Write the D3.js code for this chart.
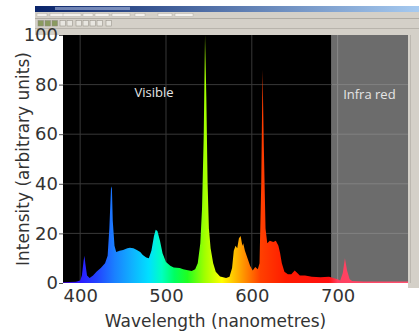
<!DOCTYPE html>
<html>
<head>
<meta charset="utf-8">
<script src="https://cdn.jsdelivr.net/npm/d3@7"></script>
<style>
  body { margin: 0; background: #fff; }
  svg { display: block; }
  .tick text { font-family: "DejaVu Sans", sans-serif; fill: #333; }
</style>
</head>
<body>
<div id="chart"></div>
<script>
// spectrum (wavelength in nm, intensity in arbitrary units)
const wavelength = [380, 395, 400, 402, 404, 405, 406, 408, 411, 415, 419, 424, 429, 432, 434, 436, 437, 438, 440, 442,
  446, 450, 455, 458, 462, 465, 470, 473, 477, 480, 483, 486, 488, 490, 493, 496, 500, 505, 509, 516,
  520, 524, 530, 534, 537, 540, 542, 544, 545.5, 547, 548.5, 550, 552, 555, 558, 563, 570, 574, 577, 579,
  581, 583, 585, 587, 589, 590, 592, 595, 598, 601, 604, 607, 609, 611, 612.5, 614, 616, 618, 621, 625,
  628, 631, 633, 635, 638, 642, 646, 650, 653, 656, 662, 670, 680, 690, 695, 700, 703, 706, 708.5, 711,
  714, 717, 730, 782];
const intensity = [0.3, 0.5, 1, 3, 9, 11, 8, 3, 2, 3, 4.5, 6, 8, 11, 22, 39, 38, 25, 15, 12.5,
  13, 13.3, 14, 14.2, 14, 13.5, 12.5, 11.3, 10.3, 10, 13, 19, 21.5, 21, 17, 12, 8.5, 7, 6.2, 6,
  5.5, 5.2, 4.8, 5.5, 8, 16, 30, 60, 100, 75, 40, 22, 14, 8, 4.5, 2.6, 2, 2.5, 6, 13,
  15, 14, 18, 19, 15, 16, 13, 10, 7, 5, 6.5, 5.5, 8, 40, 86, 55, 22, 16, 17, 16.5,
  17, 15, 12, 8, 4.5, 3.5, 3.5, 5, 4, 3, 3, 2.5, 2.3, 2.5, 2, 1.5, 1, 4, 10, 5,
  1.5, 0.8, 0.6, 0.6];

const xTicks = [400, 500, 600, 700];
const yTicks = [0, 20, 40, 60, 80, 100];

// colour of the fill along the spectrum
const stopNm = [380, 400, 420, 440, 460, 480, 495, 510, 525, 545, 565, 580, 595, 610, 640, 690, 700, 782];
const stopColor = ["#4000c0", "#2a1aff", "#2244ff", "#1a80ff", "#10b0ff", "#00e0ff", "#00ffc0", "#00ff60",
  "#20ff20", "#a0ff00", "#ffff00", "#ffc000", "#ff8000", "#ff4000", "#ff1a00", "#ff1010", "#ff4060", "#ff5070"];

const visibleEnd = 693;

const W = 419, H = 334;
const margin = {top: 35, right: 11, bottom: 51, left: 63};

const svg = d3.select("#chart").append("svg")
  .attr("width", W).attr("height", H);

const x = d3.scaleLinear().domain([380, 782]).range([margin.left, W - margin.right]);
const y = d3.scaleLinear().domain([0, 100]).range([H - margin.bottom, margin.top]);

// window chrome of the acquisition program
svg.append("rect").attr("x", 35).attr("y", 6).attr("width", W - 35).attr("height", 29).attr("fill", "#d4d0c8");
const tg = svg.append("defs").append("linearGradient").attr("id", "title");
tg.append("stop").attr("offset", "0%").attr("stop-color", "#0a246a");
tg.append("stop").attr("offset", "100%").attr("stop-color", "#a6caf0");
svg.append("rect").attr("x", 35).attr("y", 6).attr("width", W - 35).attr("height", 6).attr("fill", "url(#title)");
svg.append("rect").attr("x", 55).attr("y", 7).attr("width", 75).attr("height", 3).attr("fill", "#c8d4f0").attr("opacity", 0.5);
[37, 50, 63, 83, 95, 112, 135, 158, 175].forEach((m, i) => {
  svg.append("rect").attr("x", m).attr("y", 13.5).attr("width", 10 + (i % 3) * 4).attr("height", 3)
    .attr("fill", "#f4f2ee").attr("stroke", "#a8a49c").attr("stroke-width", 0.4);
});
svg.append("line").attr("x1", 35).attr("x2", W).attr("y1", 18.5).attr("y2", 18.5).attr("stroke", "#b0aca4");
[38, 45, 52, 60, 67, 76, 83, 90, 97, 106].forEach((m, i) => {
  svg.append("rect").attr("x", m).attr("y", 20.5).attr("width", 5.5).attr("height", 5.5)
    .attr("fill", i < 3 ? "#8a9a60" : "#e8e6e0").attr("stroke", "#8c887e").attr("stroke-width", 0.5);
});
svg.append("line").attr("x1", 35).attr("x2", W).attr("y1", 28.5).attr("y2", 28.5).attr("stroke", "#b8b4ac");
svg.append("rect").attr("x", W - margin.right).attr("y", margin.top - 1).attr("width", margin.right)
  .attr("height", H - margin.bottom - margin.top + 6).attr("fill", "#d4d0c8");
svg.append("line").attr("x1", W - margin.right + 2.5).attr("x2", W - margin.right + 2.5)
  .attr("y1", margin.top).attr("y2", H - margin.bottom).attr("stroke", "#bcb8b0");

// plot background: black for visible, grey for infra red
svg.append("rect").attr("x", x(380)).attr("y", y(100))
  .attr("width", x(visibleEnd) - x(380)).attr("height", y(0) - y(100)).attr("fill", "#000");
svg.append("rect").attr("x", x(visibleEnd)).attr("y", y(100))
  .attr("width", x(782) - x(visibleEnd)).attr("height", y(0) - y(100)).attr("fill", "#6c6c6c");

// grid
const grid = svg.append("g");
xTicks.forEach(t => {
  grid.append("line").attr("x1", x(t)).attr("x2", x(t)).attr("y1", y(100)).attr("y2", y(0))
    .attr("stroke", t > visibleEnd ? "#8a8a8a" : "#383838").attr("stroke-width", 1);
});
yTicks.slice(1, -1).forEach(t => {
  grid.append("line").attr("x1", x(380)).attr("x2", x(visibleEnd)).attr("y1", y(t)).attr("y2", y(t))
    .attr("stroke", "#383838");
  grid.append("line").attr("x1", x(visibleEnd)).attr("x2", x(782)).attr("y1", y(t)).attr("y2", y(t))
    .attr("stroke", "#828282");
});

// spectral colour gradient
const grad = svg.select("defs").append("linearGradient").attr("id", "spec")
  .attr("gradientUnits", "userSpaceOnUse")
  .attr("x1", x(380)).attr("x2", x(782)).attr("y1", 0).attr("y2", 0);
stopNm.forEach((nm, i) => {
  grad.append("stop").attr("offset", (x(nm) - x(380)) / (x(782) - x(380)))
    .attr("stop-color", stopColor[i]);
});

const data = wavelength.map((w, i) => ({w: w, v: intensity[i]}));
const area = d3.area()
  .x(d => x(d.w))
  .y0(y(0))
  .y1(d => y(d.v));

svg.append("path").datum(data)
  .attr("fill", "url(#spec)")
  .attr("d", area);

// region labels
svg.append("text").attr("x", x(486)).attr("y", y(75))
  .attr("text-anchor", "middle").attr("fill", "#e6e6e6")
  .style("font-family", "'Open Sans', sans-serif").style("font-size", "13px")
  .text("Visible");
svg.append("text").attr("x", x(737)).attr("y", y(74))
  .attr("text-anchor", "middle").attr("fill", "#e6e6e6")
  .style("font-family", "'Open Sans', sans-serif").style("font-size", "13px")
  .text("Infra red");

// axes
svg.append("g")
  .attr("transform", "translate(" + x(380) + ",0)")
  .call(d3.axisLeft(y).tickValues(yTicks).tickSize(4).tickPadding(1))
  .call(g => g.select(".domain").remove())
  .call(g => g.selectAll(".tick line").attr("stroke", "#555"))
  .call(g => g.selectAll(".tick text").style("font-size", "18px"));

svg.append("g")
  .attr("transform", "translate(0," + y(0) + ")")
  .call(d3.axisBottom(x).tickValues(xTicks).tickSize(0).tickPadding(6))
  .call(g => g.select(".domain").remove())
  .call(g => g.selectAll(".tick text").style("font-size", "18px"));

// axis titles
svg.append("text")
  .attr("transform", "translate(23," + ((y(0) + y(100)) / 2) + ") rotate(-90)")
  .attr("text-anchor", "middle").attr("dy", "0.35em")
  .attr("fill", "#333")
  .style("font-family", "'DejaVu Sans', sans-serif").style("font-size", "17px")
  .text("Intensity (arbitrary units)");

svg.append("text")
  .attr("x", (x(380) + x(782)) / 2 - 20).attr("y", 327)
  .attr("text-anchor", "middle")
  .attr("fill", "#333")
  .style("font-family", "'DejaVu Sans', sans-serif").style("font-size", "17px")
  .text("Wavelength (nanometres)");
</script>
</body>
</html>
